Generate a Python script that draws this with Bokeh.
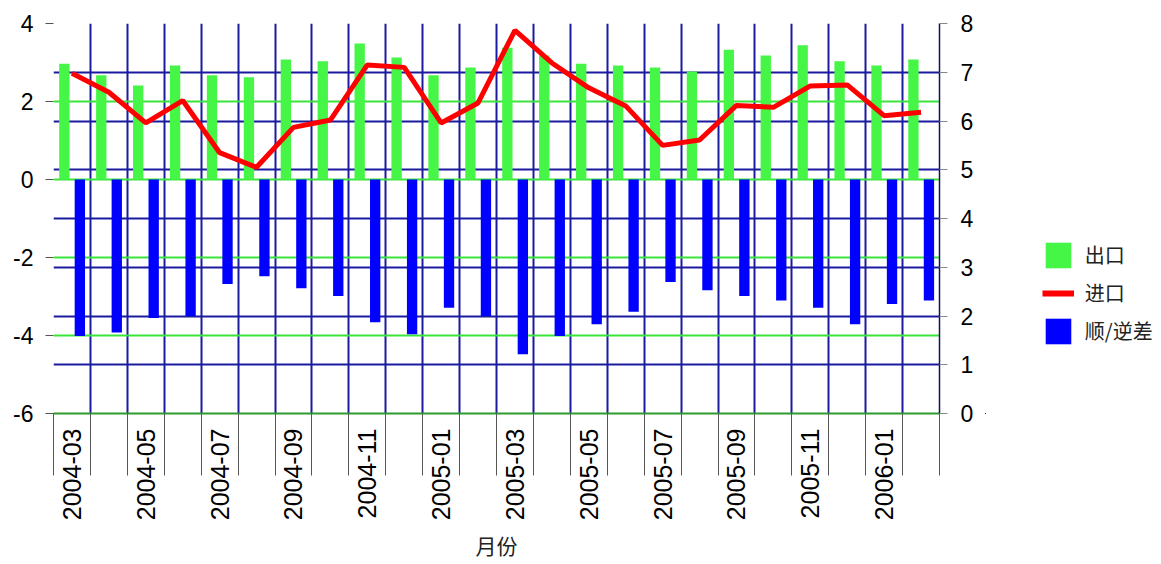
import math
import numpy as np
from bokeh.plotting import figure
from bokeh.layouts import row
from bokeh.models import (Range1d, LinearAxis, FixedTicker, Grid, Legend, LegendItem)
from bokeh.embed import file_html
from bokeh.resources import INLINE

months = ["2004-03", "2004-04", "2004-05", "2004-06", "2004-07", "2004-08",
          "2004-09", "2004-10", "2004-11", "2004-12", "2005-01", "2005-02",
          "2005-03", "2005-04", "2005-05", "2005-06", "2005-07", "2005-08",
          "2005-09", "2005-10", "2005-11", "2005-12", "2006-01", "2006-02"]
exports = [2.97, 2.67, 2.41, 2.92, 2.67, 2.62, 3.08, 3.03, 3.49, 3.13, 2.67, 2.87,
           3.38, 3.18, 2.97, 2.92, 2.87, 2.77, 3.33, 3.18, 3.44, 3.03, 2.92, 3.08]
imports = [6.98, 6.59, 5.96, 6.42, 5.35, 5.05, 5.87, 6.02, 7.15, 7.10, 5.96, 6.37,
           7.86, 7.19, 6.68, 6.31, 5.50, 5.61, 6.32, 6.28, 6.72, 6.74, 6.11, 6.18]
balance = [-4.01, -3.92, -3.55, -3.50, -2.68, -2.48, -2.79, -2.99, -3.66, -3.97, -3.29, -3.50,
           -4.48, -4.01, -3.71, -3.39, -2.63, -2.84, -2.99, -3.10, -3.29, -3.71, -3.19, -3.10]
left_ticks = [-6, -4, -2, 0, 2, 4]
right_ticks = [0, 1, 2, 3, 4, 5, 6, 7, 8]
series_names = ["出口", "进口", "顺/逆差"]

n = len(months)
idx = np.arange(n)

GREEN_BAR = "#46f646"
BLUE_BAR = "#0000ff"
RED = "#ff0000"
GREEN_GRID = "#3ae43a"
NAVY = "#1a1a9e"
FONT = "Liberation Sans"
CJK = "Noto Sans CJK SC"

p = figure(width=985, height=563, output_backend="svg", toolbar_location=None,
           x_range=Range1d(-0.5, n - 0.5), y_range=Range1d(-6, 4),
           min_border_left=53, min_border_right=46, min_border_top=23, min_border_bottom=150)
p.extra_y_ranges = {"right": Range1d(0, 8)}
p.outline_line_color = None
p.background_fill_color = "white"
p.grid.visible = False

# grids: vertical navy, right-axis navy, left-axis green
vgrid = Grid(dimension=0, ticker=FixedTicker(ticks=[i - 0.5 for i in range(n + 1)]),
             grid_line_color=NAVY, grid_line_width=2)
rgrid = Grid(dimension=1, ticker=FixedTicker(ticks=right_ticks), y_range_name="right",
             grid_line_color=NAVY, grid_line_width=2)
lgrid = Grid(dimension=1, ticker=FixedTicker(ticks=left_ticks),
             grid_line_color=GREEN_GRID, grid_line_width=2)
for g in (vgrid, rgrid, lgrid):
    p.add_layout(g, "center")

# bars and line
p.vbar(x=idx - 0.206, width=0.28, bottom=0, top=exports, fill_color=GREEN_BAR, line_color=None)
p.vbar(x=idx + 0.214, width=0.28, top=0, bottom=balance, fill_color=BLUE_BAR, line_color=None)
p.line(x=idx, y=imports, y_range_name="right", line_color=RED, line_width=5)

# x axis
xa = p.xaxis[0]
xa.ticker = FixedTicker(ticks=[i for i in range(0, n, 2)],
                        minor_ticks=[i - 0.5 for i in range(n + 1)])
xa.major_label_overrides = {i: months[i] for i in range(0, n, 2)}
xa.major_label_orientation = math.pi / 2
xa.major_tick_out = 0
xa.major_tick_in = 0
xa.minor_tick_in = 0
xa.minor_tick_out = 62
xa.minor_tick_line_color = "#555555"
xa.minor_tick_line_width = 1
xa.major_label_standoff = -47
xa.major_label_text_font = FONT
xa.major_label_text_font_size = "25px"
xa.major_label_text_color = "#000000"
xa.axis_line_color = "#2f9b2f"
xa.axis_line_width = 2
xa.axis_label = "月份"
xa.axis_label_standoff = 7
xa.axis_label_text_font = CJK
xa.axis_label_text_font_size = "21px"
xa.axis_label_text_font_style = "normal"
xa.axis_label_text_color = "#222222"

# left axis
ya = p.yaxis[0]
ya.ticker = FixedTicker(ticks=left_ticks)
ya.major_label_overrides = {t: str(t) for t in left_ticks}
ya.major_tick_out = 8
ya.major_tick_in = 0
ya.minor_tick_out = 0
ya.minor_tick_in = 0
ya.major_tick_line_color = "#555555"
ya.axis_line_color = None
ya.major_label_standoff = 12
ya.major_label_text_font = FONT
ya.major_label_text_font_size = "23px"
ya.major_label_text_color = "#000000"

# right axis
ra = LinearAxis(y_range_name="right", ticker=FixedTicker(ticks=right_ticks))
ra.major_tick_out = 8
ra.major_tick_in = 0
ra.minor_tick_out = 0
ra.minor_tick_in = 0
ra.major_tick_line_color = "#888888"
ra.axis_line_color = "#101060"
ra.axis_line_width = 1.5
ra.major_label_standoff = 13
ra.major_label_text_font = FONT
ra.major_label_text_font_size = "23px"
ra.major_label_text_color = "#000000"
p.add_layout(ra, "right")

# legend in a companion panel; its glyphs use the same data but lie outside its view
q = figure(width=175, height=563, output_backend="svg", toolbar_location=None,
           x_range=Range1d(100, 101), y_range=Range1d(100, 101),
           x_axis_location=None, y_axis_location=None,
           min_border_left=0, min_border_right=0, min_border_top=0, min_border_bottom=0)
q.outline_line_color = None
q.grid.visible = False
s1 = q.vbar(x=idx, top=exports, width=0.28, fill_color=GREEN_BAR, line_color=None)
s2 = q.line(x=idx, y=imports, line_color=RED, line_width=6)
s3 = q.vbar(x=idx, top=balance, width=0.28, fill_color=BLUE_BAR, line_color=None)
legend = Legend(items=[LegendItem(label=series_names[0], renderers=[s1]),
                       LegendItem(label=series_names[1], renderers=[s2]),
                       LegendItem(label=series_names[2], renderers=[s3])],
                location=(56.8, 66.5), orientation="vertical",
                glyph_width=32, glyph_height=32, spacing=6, label_standoff=11,
                padding=0, margin=0, border_line_alpha=0, background_fill_alpha=0,
                label_text_font=CJK, label_text_font_size="20px", label_text_color="#222222")
q.add_layout(legend, "center")

open("out.html", "w").write(file_html(row(p, q), INLINE))
